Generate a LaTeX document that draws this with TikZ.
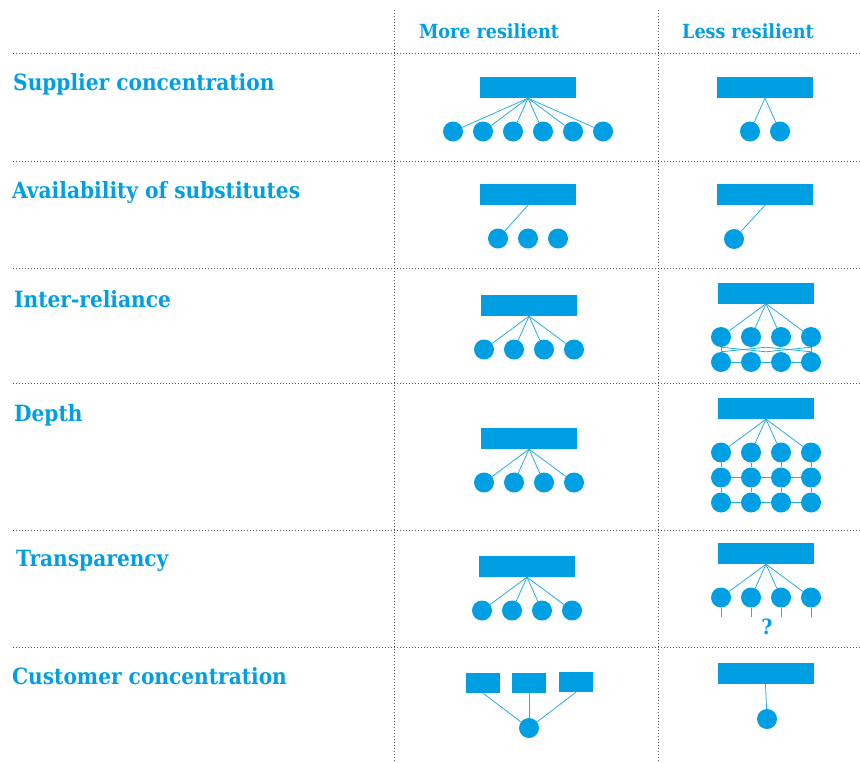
\documentclass[tikz,border=0pt]{standalone}
\usepackage{fontspec}
\setmainfont{DejaVu Serif Condensed}
\usetikzlibrary{calc}
\definecolor{resblue}{HTML}{009FE3}
\definecolor{dotgray}{HTML}{555555}

\begin{document}
\begin{tikzpicture}[x=1pt,y=-1pt]
        \tikzstyle{hub}=[rectangle, fill=resblue, minimum width=96pt, minimum height=21pt, inner sep=0pt]
        \tikzstyle{box}=[rectangle, fill=resblue, minimum width=34pt, minimum height=20pt, inner sep=0pt]
        \tikzstyle{leaf}=[circle, fill=resblue, minimum size=20pt, inner sep=0pt]
        \tikzstyle{link}=[draw=resblue!85, line width=0.8pt]
        \tikzstyle{sepline}=[draw=dotgray, line width=1pt, dash pattern=on 1pt off 2pt]
        \tikzstyle{rowlabel}=[anchor=base west, inner sep=0pt, text=resblue, font=\bfseries\fontsize{22.4}{26}\selectfont]
        \tikzstyle{colhead}=[anchor=base, inner sep=0pt, text=resblue, font=\bfseries\fontsize{19.5}{22}\selectfont]
        \tikzstyle{level 1}=[level distance=44pt, sibling distance=30pt]
        \tikzstyle{level 2}=[level distance=25pt]
        \tikzstyle{level 3}=[level distance=25pt]
        \tikzset{edge from parent/.style={link}, parent anchor=south}
        \useasboundingbox (0,0) rectangle (860,763);

        % dotted rules
        \foreach \y in {53,161,268,383,530,647}
          \draw[sepline] (13,\y) -- (860,\y);
        \foreach \x in {394,658}
          \draw[sepline] (\x,10) -- (\x,763);

        % headings
        \node[colhead] (more) at (489,38) {More resilient};
        \node[colhead] (less) at (748,38) {Less resilient};

        \node[rowlabel] (lsc) at (13,90.5) {Supplier concentration};
        \node[rowlabel] (lav) at (12,198) {Availability of substitutes};
        \node[rowlabel] (lir) at (14,307.5) {Inter-reliance};
        \node[rowlabel] (ldp) at (14,421.5) {Depth};
        \node[rowlabel] (ltr) at (16,566.5) {Transparency};
        \node[rowlabel] (lcc) at (12,684.5) {Customer concentration};

        % supplier concentration
        \node[hub] (scm) at (528,87.5) {}
          child {node[leaf] {}}
          child {node[leaf] {}}
          child {node[leaf] {}}
          child {node[leaf] {}}
          child {node[leaf] {}}
          child {node[leaf] {}};
        \node[hub] (scl) at (765,87.5) {}
          child {node[leaf] {}}
          child {node[leaf] {}};

        % availability of substitutes
        \node[hub] (avm) at (528,194.5) {}
          child {node[leaf] {}}
          child {node[leaf] {} edge from parent[draw=none]}
          child {node[leaf] {} edge from parent[draw=none]};
        \node[hub] (avl) at (765,194.5) {};
        \node[leaf] (avl-1) at (734,239) {};
        \draw[link] (avl.south) -- (avl-1);

        % inter-reliance
        \node[hub] (irm) at (529,305.5) {}
          child {node[leaf] {}}
          child {node[leaf] {}}
          child {node[leaf] {}}
          child {node[leaf] {}};
        \node[hub] (irl) at (766,293) {}
          child {node[leaf] {}
            child {node[leaf] {}}
          }
          child {node[leaf] {}
            child {node[leaf] {} edge from parent[draw=none]}
          }
          child {node[leaf] {}
            child {node[leaf] {} edge from parent[draw=none]}
          }
          child {node[leaf] {}
            child {node[leaf] {}}
          };
        \draw[link] (irl-1-1) -- (irl-2-1) -- (irl-3-1) -- (irl-4-1);
        \draw[link] (irl-1.south) -- ($(irl-2-1.north)!0.5!(irl-3-1.north)$) -- (irl-4.south);
        \draw[link] (irl-1-1.north) -- ($(irl-2.south)!0.5!(irl-3.south)$) -- (irl-4-1.north);

        % depth
        \node[hub] (dpm) at (529,438.5) {}
          child {node[leaf] {}}
          child {node[leaf] {}}
          child {node[leaf] {}}
          child {node[leaf] {}};
        \node[hub] (dpl) at (766,408.5) {}
          child {node[leaf] {} child {node[leaf] {} child {node[leaf] {}}}}
          child {node[leaf] {} child {node[leaf] {} child {node[leaf] {}}}}
          child {node[leaf] {} child {node[leaf] {} child {node[leaf] {}}}}
          child {node[leaf] {} child {node[leaf] {} child {node[leaf] {}}}};
        \draw[link] (dpl-1-1) -- (dpl-2-1) -- (dpl-3-1) -- (dpl-4-1);
        \draw[link] (dpl-1-1-1) -- (dpl-2-1-1) -- (dpl-3-1-1) -- (dpl-4-1-1);

        % transparency
        \node[hub] (trm) at (527,566.5) {}
          child {node[leaf] {}}
          child {node[leaf] {}}
          child {node[leaf] {}}
          child {node[leaf] {}};
        \node[hub] (trl) at (766,553.5) {}
          child {node[leaf] {} child[level distance=19pt] {coordinate}}
          child {node[leaf] {} child[level distance=19pt] {coordinate}}
          child {node[leaf] {} child[level distance=19pt] {coordinate}}
          child {node[leaf] {} child[level distance=19pt] {coordinate}};
        \node[colhead, font=\bfseries\fontsize{21}{24}\selectfont] (trq) at (767,634) {?};

        % customer concentration
        \node[box] (ccm-1) at (483,683) {};
        \node[box] (ccm-2) at (529,683) {};
        \node[box] (ccm-3) at (576,682) {};
        \node[leaf] (ccm) at (529,728) {};
        \foreach \i in {1,2,3}
          \draw[link] (ccm-\i.south) -- (ccm);
        \node[hub] (ccl) at (765.5,673.5) {};
        \node[leaf] (ccl-1) at (767,719) {};
        \draw[link] (ccl.south) -- (ccl-1);
\end{tikzpicture}
\end{document}
